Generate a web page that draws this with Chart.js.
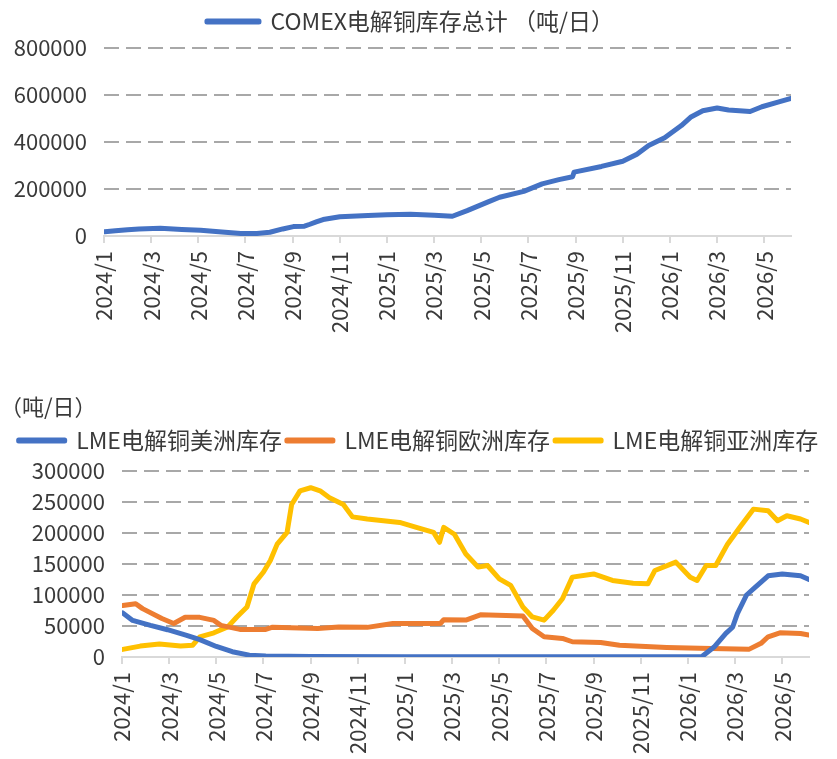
<!DOCTYPE html>
<html>
<head>
<meta charset="utf-8">
<script src="https://cdn.jsdelivr.net/npm/chart.js@4.4.0/dist/chart.umd.min.js"></script>
<style>
  html, body { margin: 0; padding: 0; background: #fff; }
  body { width: 837px; height: 759px; position: relative; overflow: hidden; }
  #comex-wrap { position: absolute; left: 0; top: 0; width: 837px; height: 350px; }
  #lme-wrap { position: absolute; left: 0; top: 380px; width: 837px; height: 379px; }
</style>
</head>
<body>
<div id="comex-wrap"><canvas id="comex-chart" width="837" height="350"></canvas></div>
<div id="lme-wrap"><canvas id="lme-chart" width="837" height="379"></canvas></div>
<script>
// COMEX copper stock total (tons)
const comexDates = [
  "2024-01-02", "2024-01-16", "2024-02-01", "2024-02-15", "2024-03-13", "2024-04-10",
  "2024-05-04", "2024-06-01", "2024-06-25", "2024-07-16", "2024-08-02", "2024-08-19",
  "2024-09-02", "2024-09-16", "2024-09-23", "2024-10-01", "2024-10-10", "2024-11-01",
  "2024-12-07", "2025-01-01", "2025-02-01", "2025-03-01", "2025-03-25", "2025-04-13",
  "2025-05-10", "2025-05-25", "2025-06-25", "2025-07-19", "2025-08-10", "2025-08-28",
  "2025-08-30", "2025-10-04", "2025-11-01", "2025-11-19", "2025-12-04", "2025-12-25",
  "2026-01-16", "2026-01-28", "2026-02-12", "2026-03-01", "2026-03-16", "2026-04-13",
  "2026-04-28", "2026-05-19", "2026-06-05"
];
const comexValues = [
  18000, 22000, 27000, 30000, 33000, 28000,
  24000, 17000, 11000, 11000, 16000, 30000,
  40000, 42000, 50000, 60000, 70000, 82000,
  87000, 90000, 93000, 88000, 84000, 108000,
  145000, 165000, 190000, 222000, 240000, 252000,
  272000, 296000, 318000, 348000, 385000, 418000,
  470000, 505000, 533000, 545000, 536000, 530000,
  550000, 570000, 585000
];

// LME copper stocks by region (tons)
const americasDates = [
  "2024-01-02", "2024-01-15", "2024-02-07", "2024-02-28", "2024-03-24", "2024-04-10",
  "2024-05-01", "2024-05-22", "2024-06-13", "2024-07-04", "2024-09-01", "2025-01-01",
  "2025-07-01", "2026-01-19", "2026-02-04", "2026-02-18", "2026-02-26", "2026-03-04",
  "2026-03-16", "2026-03-28", "2026-04-13", "2026-05-01", "2026-05-25", "2026-06-05"
];
const americasValues = [
  71000, 59000, 51000, 44000, 35000, 28000,
  17000, 8500, 3000, 1500, 800, 500,
  300, 300, 16000, 38000, 48000, 70000,
  100000, 113000, 131000, 134000, 131000, 125000
];

const europeDates = [
  "2024-01-02", "2024-01-19", "2024-01-28", "2024-02-21", "2024-03-07", "2024-03-22",
  "2024-04-10", "2024-04-28", "2024-05-07", "2024-06-01", "2024-07-04", "2024-07-13",
  "2024-09-10", "2024-10-07", "2024-11-13", "2024-12-16", "2025-02-15", "2025-02-19",
  "2025-03-19", "2025-04-07", "2025-06-01", "2025-06-13", "2025-06-28", "2025-07-22",
  "2025-08-04", "2025-09-10", "2025-10-04", "2025-12-04", "2026-01-16", "2026-03-19",
  "2026-04-04", "2026-04-13", "2026-04-28", "2026-05-25", "2026-06-05"
];
const europeValues = [
  83000, 86000, 78000, 62000, 54000, 64000,
  64000, 59000, 51000, 44500, 44500, 48000,
  46000, 48500, 47800, 54000, 54000, 60000,
  59500, 68000, 66000, 46000, 32600, 30000,
  24600, 23500, 19000, 15500, 14000, 12300,
  22000, 32600, 39000, 38000, 35500
];

const asiaDates = [
  "2024-01-02", "2024-01-25", "2024-02-18", "2024-03-16", "2024-04-01", "2024-04-10",
  "2024-04-28", "2024-05-16", "2024-05-28", "2024-06-10", "2024-06-19", "2024-07-01",
  "2024-07-10", "2024-07-19", "2024-08-01", "2024-08-07", "2024-08-18", "2024-09-01",
  "2024-09-13", "2024-09-25", "2024-10-13", "2024-10-25", "2024-11-13", "2024-12-25",
  "2025-01-16", "2025-02-07", "2025-02-14", "2025-02-19", "2025-03-04", "2025-03-19",
  "2025-04-04", "2025-04-16", "2025-05-01", "2025-05-16", "2025-06-01", "2025-06-13",
  "2025-06-28", "2025-07-10", "2025-07-22", "2025-08-04", "2025-09-01", "2025-09-25",
  "2025-10-22", "2025-11-10", "2025-11-19", "2025-12-16", "2026-01-04", "2026-01-13",
  "2026-01-25", "2026-02-06", "2026-02-20", "2026-03-07", "2026-03-25", "2026-04-13",
  "2026-04-25", "2026-05-07", "2026-05-25", "2026-06-05"
];
const asiaValues = [
  12300, 17600, 21000, 17600, 19000, 32600,
  39000, 48600, 64600, 80700, 118000, 137000,
  155600, 182000, 201000, 246000, 268000, 273000,
  268000, 257000, 246000, 226000, 222500, 217000,
  209000, 201000, 185000, 209000, 198000, 166000,
  145000, 147600, 126000, 115500, 80700, 64600,
  59400, 75400, 94000, 128800, 134000, 123500,
  119000, 118000, 139600, 153000, 128800, 123500,
  147600, 147600, 182000, 209000, 238500, 235800,
  219800, 227800, 222500, 217000
];

const FONT_FAMILY = "'Noto Sans CJK SC', 'Noto Sans', sans-serif";
const TEXT_COLOR = "#3a3a3a";
const GRID_COLOR = "#a8a8a8";
const AXIS_COLOR = "#d9d9d9";

// months since 2024/1, fractional by day -> linear x scale
function monthIndex(dateStr) {
  const [y, m, d] = dateStr.split("-").map(Number);
  const daysInMonth = new Date(y, m, 0).getDate();
  return (y - 2024) * 12 + (m - 1) + (d - 1) / daysInMonth;
}

function toPoints(dates, values) {
  return dates.map((d, i) => ({ x: monthIndex(d), y: values[i] }));
}

function monthLabel(v) {
  return (2024 + Math.floor(v / 12)) + "/" + (v % 12 + 1);
}

const X_MAX = monthIndex("2026-06-05");

// extra room under the legend + horizontal nudge of the legend row
const legendBox = {
  id: "legendBox",
  beforeInit(chart, args, opts) {
    const fit = chart.legend.fit;
    chart.legend.fit = function () {
      fit.call(this);
      this.height += opts.extraHeight || 0;
    };
  },
  afterLayout(chart, args, opts) {
    chart.legend.left += opts.shiftX || 0;
    chart.legend.right += opts.shiftX || 0;
  }
};

function lineDataset(label, points, color) {
  return {
    label: label,
    data: points,
    borderColor: color,
    backgroundColor: color,
    borderWidth: 5,
    borderJoinStyle: "round",
    borderCapStyle: "round",
    pointRadius: 0,
    tension: 0
  };
}

// yWidth / rightGap / xHeight pin the plot area to the reference's position
function buildScales(yMax, yStep, yWidth, rightGap, xHeight) {
  return {
    x: {
      type: "linear",
      min: 0,
      max: X_MAX,
      afterFit: (s) => { s.height = xHeight; },
      ticks: {
        stepSize: 2,
        includeBounds: false,
        autoSkip: false,
        minRotation: 90,
        maxRotation: 90,
        padding: 8,
        color: TEXT_COLOR,
        font: { family: FONT_FAMILY, size: 22 },
        callback: (v) => monthLabel(v)
      },
      grid: { drawOnChartArea: false, drawTicks: true, tickLength: 7, color: AXIS_COLOR, lineWidth: 2 },
      border: { display: true, color: AXIS_COLOR, width: 2 }
    },
    y: {
      min: 0,
      max: yMax,
      afterFit: (s) => { s.width = yWidth; },
      ticks: {
        stepSize: yStep,
        padding: 17,
        color: TEXT_COLOR,
        font: { family: FONT_FAMILY, size: 22 },
        callback: (v) => String(v)
      },
      grid: {
        drawTicks: false,
        lineWidth: 2,
        color: (ctx) => (ctx.tick && ctx.tick.value === 0 ? "rgba(0,0,0,0)" : GRID_COLOR)
      },
      border: { display: false, dash: [15, 7] }
    },
    // empty right axis, only keeps a gap so the legend can use full width
    gap: {
      position: "right",
      afterFit: (s) => { s.width = rightGap; },
      ticks: { display: false },
      grid: { display: false },
      border: { display: false }
    }
  };
}

// upper chart: COMEX total
new Chart(document.getElementById("comex-chart"), {
  type: "line",
  data: {
    datasets: [lineDataset("COMEX电解铜库存总计 （吨/日）", toPoints(comexDates, comexValues), "#4472C4")]
  },
  options: {
    responsive: false,
    animation: false,
    layout: { padding: 0 },
    plugins: {
      legend: {
        position: "top",
        labels: {
          boxWidth: 52,
          boxHeight: 1,
          padding: 10,
          color: TEXT_COLOR,
          font: { family: FONT_FAMILY, size: 23 }
        }
      },
      tooltip: { enabled: false },
      legendBox: { extraHeight: 5, shiftX: -8 }
    },
    scales: buildScales(800000, 200000, 104, 46, 114)
  },
  plugins: [legendBox]
});

// lower chart: LME by region
new Chart(document.getElementById("lme-chart"), {
  type: "line",
  data: {
    datasets: [
      lineDataset("LME电解铜美洲库存", toPoints(americasDates, americasValues), "#4472C4"),
      lineDataset("LME电解铜欧洲库存", toPoints(europeDates, europeValues), "#ED7D31"),
      lineDataset("LME电解铜亚洲库存", toPoints(asiaDates, asiaValues), "#FFC000")
    ]
  },
  options: {
    responsive: false,
    animation: false,
    layout: { padding: 0 },
    plugins: {
      title: {
        display: true,
        text: "（吨/日）",
        align: "start",
        color: TEXT_COLOR,
        font: { family: FONT_FAMILY, size: 22, weight: "normal", lineHeight: 1 },
        padding: { top: 16, bottom: 6 }
      },
      legend: {
        position: "top",
        labels: {
          boxWidth: 46,
          boxHeight: 1,
          padding: 5,
          color: TEXT_COLOR,
          font: { family: FONT_FAMILY, size: 23 }
        }
      },
      tooltip: { enabled: false },
      legendBox: { extraHeight: 9, shiftX: 0 }
    },
    scales: buildScales(300000, 50000, 122, 28, 102)
  },
  plugins: [legendBox]
});
</script>
</body>
</html>
